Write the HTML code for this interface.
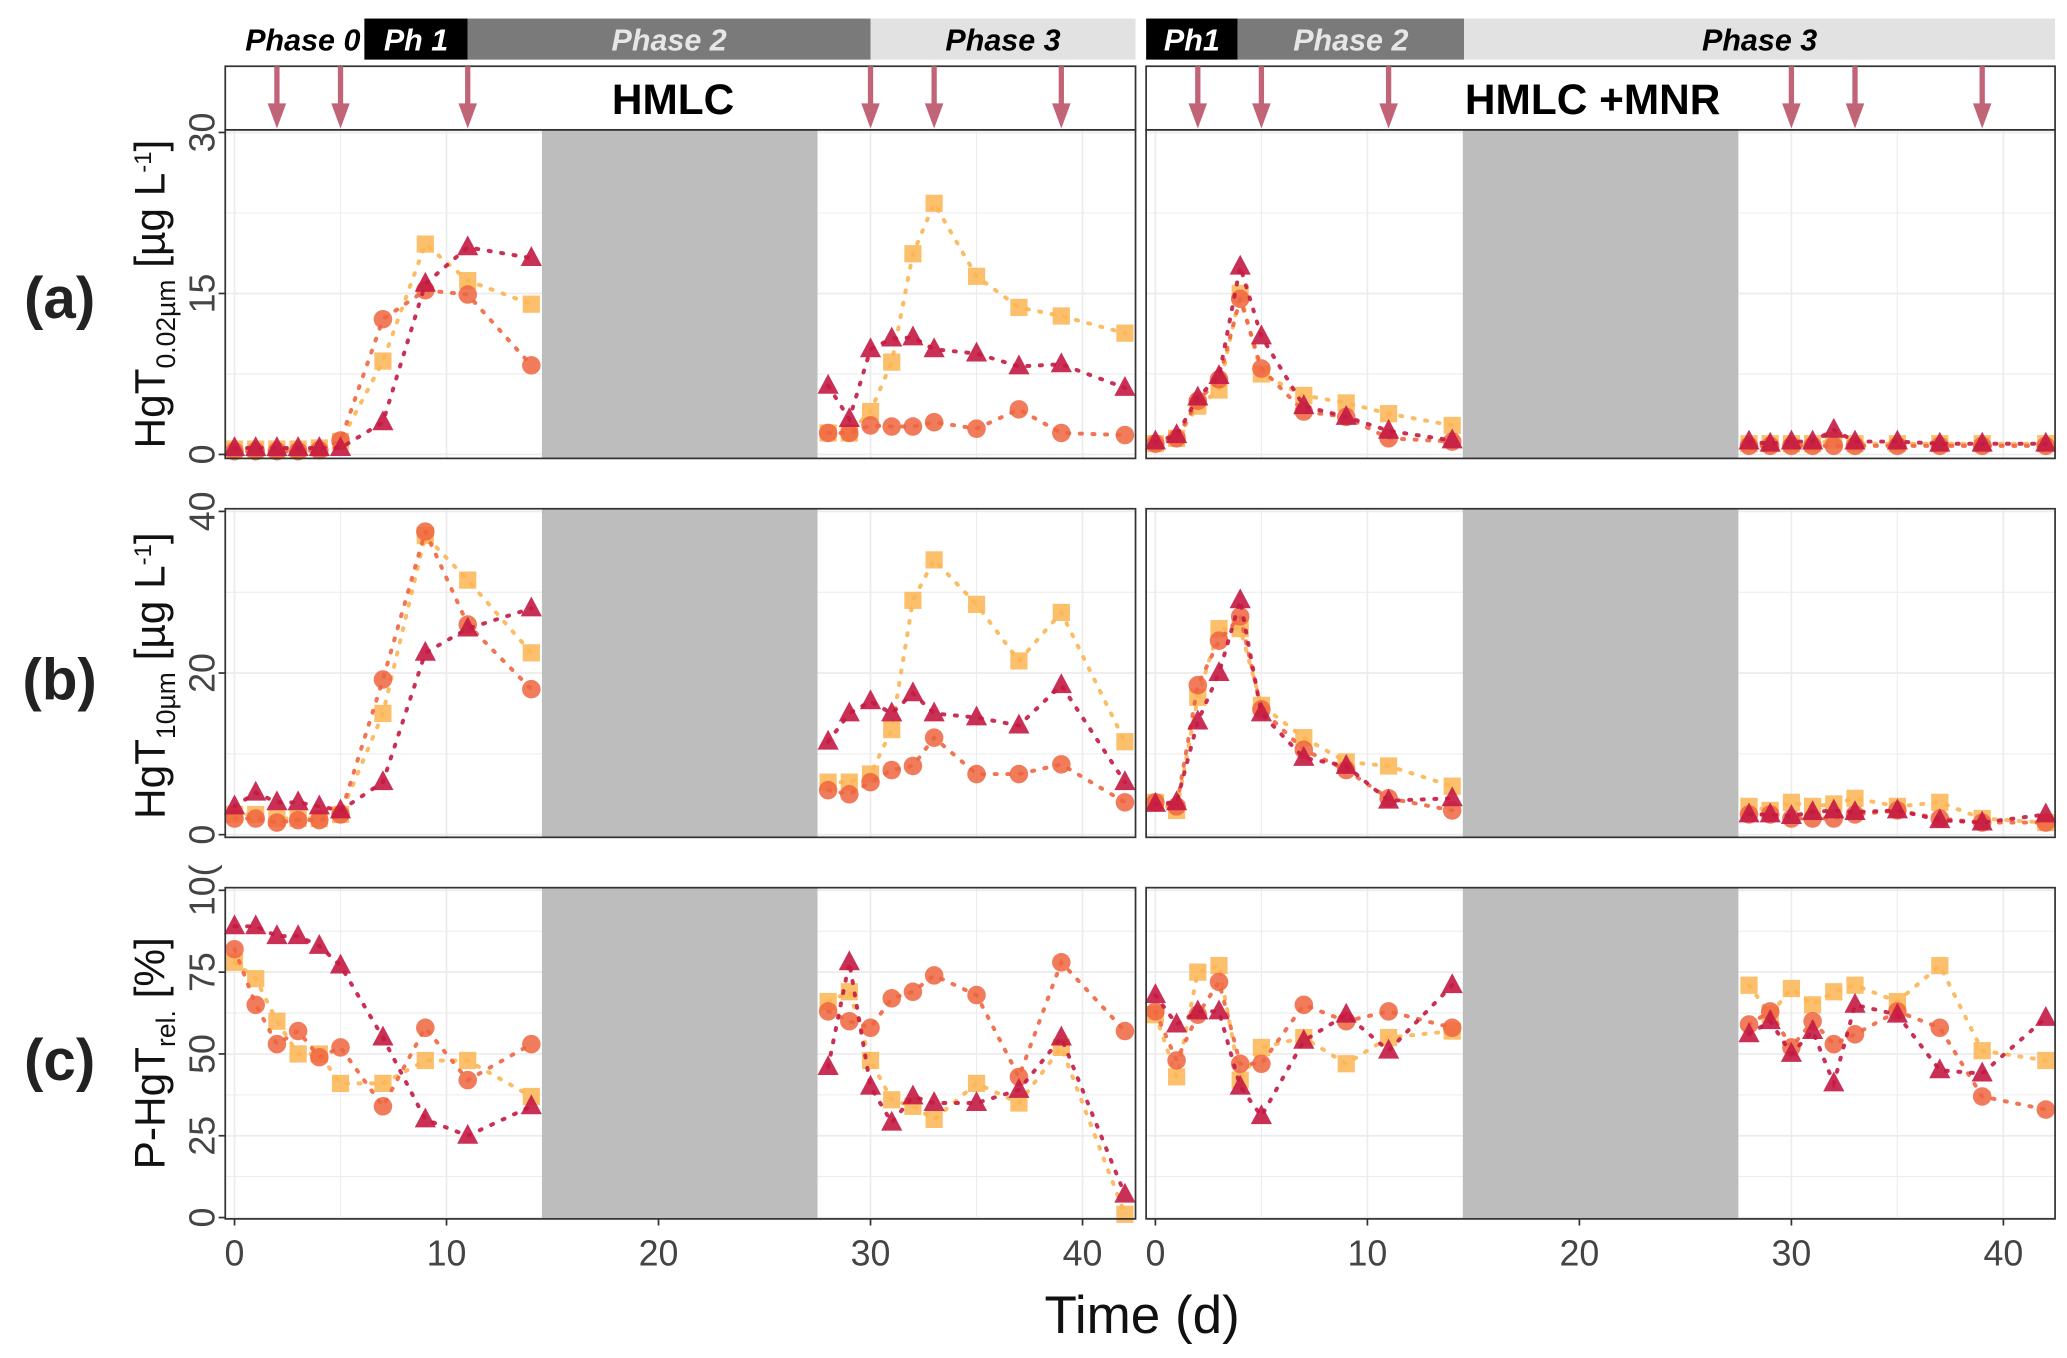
<!DOCTYPE html>
<html><head><meta charset="utf-8"><style>
html,body{margin:0;padding:0;background:#fff}
svg{display:block}
text{font-family:"Liberation Sans",sans-serif}
</style></head><body>
<svg id="chart" width="2067" height="1358" viewBox="0 0 1560 1025" preserveAspectRatio="none" xmlns="http://www.w3.org/2000/svg"></svg>
<script>
// ---- data ----
const daysP1 = [0,1,2,3,4,5,7,9,11,14];
const daysP3 = [28,29,30,31,32,33,35,37,39,42];
const arrowDays = [2,5,11,30,33,39];
// panel a (HgT 0.02um)
const aL_sq = [0.5,0.5,0.5,0.5,0.6,1.2,8.7,19.6,16.2,14, 2,2,4,8.6,18.7,23.4,16.6,13.7,12.9,11.3];
const aL_ci = [0.3,0.3,0.3,0.3,0.4,1.3,12.6,15.3,14.9,8.3, 2,2,2.7,2.6,2.6,3.0,2.4,4.2,2.0,1.8];
const aL_tr = [0.6,0.6,0.6,0.6,0.6,0.6,3,15.9,19.3,18.3, 6.4,3.3,9.8,10.8,10.9,9.8,9.4,8.2,8.4,6.2];
const aR_sq = [1,1.5,4.5,6,15,7.5,5.5,4.8,3.8,2.7, 1,1,1,1,1.3,1,1,1,1,1];
const aR_ci = [1,1.5,5,7,14.5,8,4,3.5,1.5,1.2, 0.8,0.8,0.8,0.8,0.8,0.8,0.8,0.8,0.8,0.8];
const aR_tr = [1.2,1.8,5.3,7.3,17.5,11,4.5,3.5,2.2,1.3, 1.2,1.0,1.2,1.2,2.3,1.2,1.2,1.0,1.0,1.0];
// panel b (HgT 10um)
const bL_sq = [2.5,2.5,2,2,2,2.5,15,37,31.5,22.5, 6.5,6.5,7.5,13,29,34,28.5,21.5,27.5,11.5];
const bL_ci = [2,2,1.5,1.8,1.8,2.5,19.2,37.5,26,18, 5.5,5,6.5,8,8.5,12,7.5,7.5,8.7,4];
const bL_tr = [3.5,5.2,4,4,3.5,3,6.5,22.5,25.5,28, 11.5,15,16.5,15,17.5,15,14.5,13.5,18.5,6.5];
const bR_sq = [4,3,17,25.5,25.5,16,12,9,8.5,6, 3.5,3,4,3.5,3.8,4.5,3.5,4,2,1.5];
const bR_ci = [4,3.5,18.5,24,27,15.5,10.5,8,4.5,3, 2.5,2.5,2,2,2,2.5,3,2,1.5,1.5];
const bR_tr = [3.8,4,14,20,29,15,9.5,8.5,4.2,4.5, 2.5,2.5,2.3,2.8,3,2.8,3,1.8,1.5,2.5];
// panel c (P-HgT rel)
const cL_sq = [78,73,60,50,50,41,41,48,48,37, 66,69,48,36,34,30,41,35,52,1];
const cL_ci = [82,65,53,57,49,52,34,58,42,53, 63,60,58,67,69,74,68,43,78,57];
const cL_tr = [89,89,86,86,83,77,55,30,25,34, 46,78,40,29,37,35,35,39,55,7];
const cR_sq = [62,43,75,77,42,52,55,47,55,57, 71,62,70,65,69,71,66,77,51,48];
const cR_ci = [63,48,62,72,47,47,65,60,63,58, 59,63,52,60,53,56,63,58,37,33];
const cR_tr = [68,59,63,63,40,31,54,62,51,71, 56,60,50,57,41,65,62,45,44,61];
const xTicks = [0,10,20,30,40];
const aTicks = [0,15,30], bTicks=[0,20,40], cTicks=[0,25,50,75,100];
const cTickLabels = ["0","25","50","75","10("];

const NS="http://www.w3.org/2000/svg";
const svg=document.getElementById('chart');
function mk(tag,attrs,parent){const e=document.createElementNS(NS,tag);for(const k in attrs)e.setAttribute(k,attrs[k]);(parent||svg).appendChild(e);return e;}
const COL={sq:'#fbb552',ci:'#ef6540',tr:'#c41a42'};
const panelsX=[{x0:170,x1:857,d0:177},{x0:865,x1:1551,d0:872}];
const PX=16;
const rows=[
 {y0:98,y1:346,z:343,t:100,max:30,ticks:aTicks,labels:aTicks.map(String),data:[[aL_sq,aL_ci,aL_tr],[aR_sq,aR_ci,aR_tr]],name:'a'},
 {y0:384,y1:632,z:630,t:386,max:40,ticks:bTicks,labels:bTicks.map(String),data:[[bL_sq,bL_ci,bL_tr],[bR_sq,bR_ci,bR_tr]],name:'b'},
 {y0:670,y1:920,z:919,t:672,max:100,ticks:cTicks,labels:cTickLabels,data:[[cL_sq,cL_ci,cL_tr],[cR_sq,cR_ci,cR_tr]],name:'c'}
];
const allDays=daysP1.concat(daysP3);
rows.forEach((r,ri)=>{
 const ys=v=>r.z-(v/r.max)*(r.z-r.t);
 panelsX.forEach((p,pi)=>{
  const xs=d=>p.d0+d*PX;
  const g=mk('g',{});
  
  
  mk('rect',{x:p.x0,y:r.y0,width:p.x1-p.x0,height:r.y1-r.y0,fill:'#fff'},g);
  for(let d=0;d<=45;d+=5){const x=xs(d);if(x>p.x1)continue;mk('line',{x1:x,x2:x,y1:r.y0,y2:r.y1,stroke:'#ececec','stroke-width':d%10?0.8:1.3},g);}
  const step=r.ticks[1]-r.ticks[0];
  for(let v=0;v<=r.max;v+=step/2){const y=ys(v);mk('line',{x1:p.x0,x2:p.x1,y1:y,y2:y,stroke:'#ececec','stroke-width':(v%step)?0.8:1.3},g);}
  const sh=mk('rect',{x:xs(14.5),y:r.y0,width:xs(27.5)-xs(14.5),height:r.y1-r.y0,fill:'#bdbdbd'},g);
  
  
  const keys=['sq','ci','tr'];
  r.data[pi].forEach((vals,si)=>{
   const c=COL[keys[si]];
   [[0,10],[10,20]].forEach(([a,b])=>{
    const pts=[];for(let i=a;i<b;i++)pts.push(xs(allDays[i])+','+ys(vals[i]));
    const l=mk('polyline',{points:pts.join(' '),fill:'none',stroke:c,'stroke-width':3,'stroke-dasharray':'1.5 8','stroke-linecap':'round',opacity:0.9},g);
    
    
   });
   for(let i=0;i<vals.length;i++){
    const x=xs(allDays[i]),y=ys(vals[i]);let m;
    if(si===0)m=mk('rect',{x:x-6.5,y:y-6.5,width:13,height:13,fill:c,opacity:0.85},g);
    else if(si===1)m=mk('circle',{cx:x,cy:y,r:7,fill:c,opacity:0.85},g);
    else m=mk('polygon',{points:`${x},${y-9} ${x-8},${y+6} ${x+8},${y+6}`,fill:c,opacity:0.9},g);
    
    
   }
  });
  mk('rect',{x:p.x0,y:r.y0,width:p.x1-p.x0,height:r.y1-r.y0,fill:'none',stroke:'#333','stroke-width':1.3},g);
  if(ri===2){xTicks.forEach(t=>{const x=xs(t);mk('line',{x1:x,x2:x,y1:r.y1,y2:r.y1+5,stroke:'#333','stroke-width':1.3});
   const tx=mk('text',{x:x,y:955,'text-anchor':'middle','font-size':27,fill:'#444'});tx.textContent=t;
   });}
 });
 r.ticks.forEach((t,i)=>{const y=ys(t);mk('line',{x1:165,x2:170,y1:y,y2:y,stroke:'#333','stroke-width':1.3});
  const tx=mk('text',{x:0,y:0,transform:`translate(162,${y}) rotate(-90)`,'text-anchor':'middle','font-size':27,fill:'#444'});tx.textContent=r.labels[i];
  });
});
const phasesL=[{a:170,b:275,f:'#fff',t:'Phase 0',c:'#000'},{a:275,b:353,f:'#000',t:'Ph 1',c:'#fff'},{a:353,b:657,f:'#7a7a7a',t:'Phase 2',c:'#e6e6e6'},{a:657,b:857,f:'#e2e2e2',t:'Phase 3',c:'#000'}];
const phasesR=[{a:865,b:934,f:'#000',t:'Ph1',c:'#fff'},{a:934,b:1105,f:'#7a7a7a',t:'Phase 2',c:'#e6e6e6'},{a:1105,b:1551,f:'#e2e2e2',t:'Phase 3',c:'#000'}];
[phasesL,phasesR].forEach(ph=>ph.forEach(p=>{
 const r=mk('rect',{x:p.a,y:14,width:p.b-p.a,height:31,fill:p.f});
 
 const t=mk('text',{x:p.a===170?272:(p.a+p.b)/2,y:38,'text-anchor':p.a===170?'end':'middle','font-size':23,'font-weight':'bold','font-style':'italic',fill:p.c});
 t.textContent=p.t;
}));
panelsX.forEach((p,pi)=>{
 const s=mk('rect',{x:p.x0,y:50,width:p.x1-p.x0,height:48,fill:'#fff',stroke:'#333','stroke-width':1.3});
 
 const t=mk('text',{x:pi?1202:508,y:86,'text-anchor':'middle','font-size':32,'font-weight':'bold'});
 t.textContent=pi?'HMLC +MNR':'HMLC';
 arrowDays.forEach(d=>{const x=p.d0+d*PX;
  const a=mk('g',{});
  mk('line',{x1:x,x2:x,y1:50,y2:88,stroke:'#c26478','stroke-width':4},a);
  mk('polygon',{points:`${x-7},${78} ${x+7},${78} ${x},${97}`,fill:'#c26478'},a);});
});
function T(txt,attrs,name){const t=mk('text',attrs);t.innerHTML=txt;return t;}
T('(a)',{x:45,y:240,'text-anchor':'middle','font-size':44,'font-weight':'bold',fill:'#222'},'panel-label-a');
T('(b)',{x:45,y:528,'text-anchor':'middle','font-size':44,'font-weight':'bold',fill:'#222'},'panel-label-b');
T('(c)',{x:45,y:815,'text-anchor':'middle','font-size':44,'font-weight':'bold',fill:'#222'},'panel-label-c');
T('HgT<tspan font-size="20" dy="8">0.02µm</tspan><tspan dy="-8"> [µg L</tspan><tspan font-size="18" dy="-10">-1</tspan><tspan dy="10">]</tspan>',{transform:'translate(124,222) rotate(-90)','text-anchor':'middle','font-size':32,fill:'#111'},'y-axis-title-a');
T('HgT<tspan font-size="20" dy="8">10µm</tspan><tspan dy="-8"> [µg L</tspan><tspan font-size="18" dy="-10">-1</tspan><tspan dy="10">]</tspan>',{transform:'translate(124,510) rotate(-90)','text-anchor':'middle','font-size':32,fill:'#111'},'y-axis-title-b');
T('P-HgT<tspan font-size="20" dy="8">rel.</tspan><tspan dy="-8">  [%]</tspan>',{transform:'translate(124,795) rotate(-90)','text-anchor':'middle','font-size':32,fill:'#111'},'y-axis-title-c');
T('Time (d)',{x:862,y:1006,'text-anchor':'middle','font-size':40,fill:'#111'},'x-axis-title');
</script>
</body></html>
